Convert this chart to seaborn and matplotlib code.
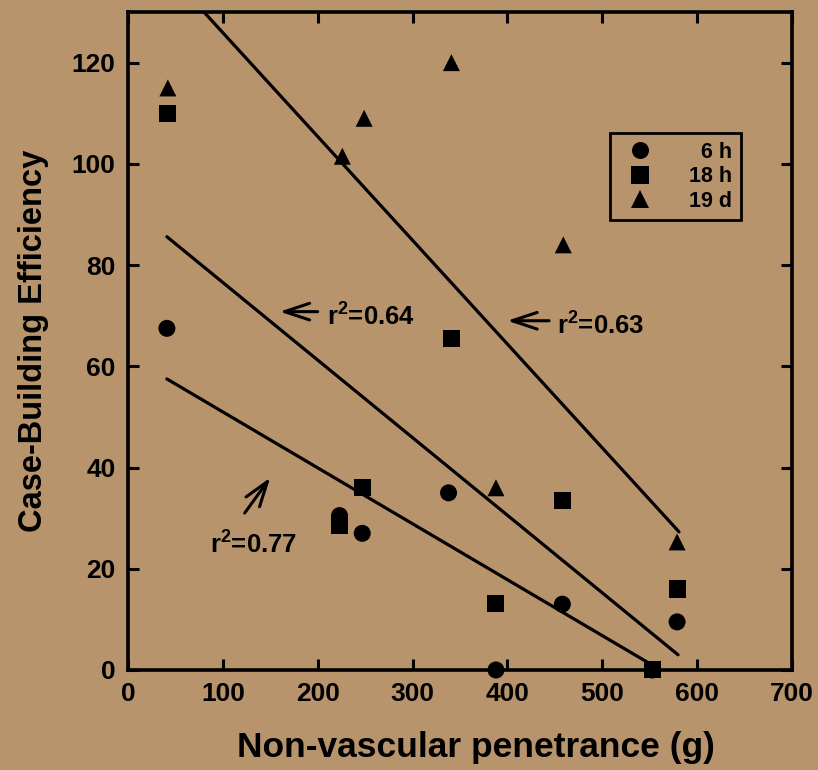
import pandas as pd
import matplotlib.pyplot as plt
import seaborn as sns

# valores
x_6h = [41, 223, 247, 338, 388, 458, 553, 579]
y_6h = [67.5, 30.5, 27, 35, 0, 13, 0, 9.5]
x_18h = [42, 223, 247, 341, 388, 458, 553, 579]
y_18h = [110, 28.5, 36, 65.5, 13.2, 33.5, 0, 16]
x_19d = [42, 226, 249, 341, 388, 459, 579]
y_19d = [115, 101.5, 109, 120, 36, 84, 25.3]

grupos = ['6 h', '18 h', '19 d']
legenda = ['  6 h', '18 h', '19 d']

# retas de regressão (extremos)
fit_x = {'6 h': [41, 548], '18 h': [41, 580], '19 d': [41, 581]}
fit_y = {'6 h': [57.5, 1.5], '18 h': [85.6, 3.0], '19 d': [138.0, 27.3]}
r2 = {'6 h': '0.77', '18 h': '0.64', '19 d': '0.63'}

df = pd.concat([
    pd.DataFrame({'x': x_6h, 'y': y_6h, 'grupo': '6 h'}),
    pd.DataFrame({'x': x_18h, 'y': y_18h, 'grupo': '18 h'}),
    pd.DataFrame({'x': x_19d, 'y': y_19d, 'grupo': '19 d'}),
])

fundo = '#b8946d'
sns.set_theme(style='ticks')
plt.rcParams['font.family'] = ['Liberation Sans', 'DejaVu Sans']
plt.rcParams['font.weight'] = 'bold'
plt.rcParams['text.color'] = 'black'
plt.rcParams['axes.labelcolor'] = 'black'
plt.rcParams['mathtext.fontset'] = 'custom'
plt.rcParams['mathtext.rm'] = 'Liberation Sans:bold'
plt.rcParams['mathtext.default'] = 'rm'

fig = plt.figure(figsize=(8.18, 7.70), dpi=100, facecolor=fundo)
ax = fig.add_axes([0.1565, 0.1299, 0.8115, 0.8545])
ax.set_facecolor(fundo)

sns.scatterplot(data=df, x='x', y='y', style='grupo', style_order=grupos,
                markers={'6 h': 'o', '18 h': 's', '19 d': '^'},
                color='black', s=150, edgecolor='black', linewidth=0,
                zorder=3, clip_on=False, ax=ax)

for g in grupos:
    ax.plot(fit_x[g], fit_y[g], color='black', lw=2.3, zorder=2, clip_on=True)

# anotações r^2
seta = dict(arrowstyle='->, head_length=0.9, head_width=0.3', lw=2.2,
            mutation_scale=20, color='black', shrinkA=0, shrinkB=0)
ax.annotate('', xy=(160, 70.8), xytext=(200, 70.8), arrowprops=seta)
ax.text(210, 68, r'r$^2$=' + r2['18 h'], fontsize=18.5, fontweight='bold')
ax.annotate('', xy=(400, 69), xytext=(444, 69), arrowprops=seta)
ax.text(452, 66.3, r'r$^2$=' + r2['19 d'], fontsize=18.5, fontweight='bold')
ax.annotate('', xy=(150, 38), xytext=(123, 31), arrowprops=seta)
ax.text(86, 23, r'r$^2$=' + r2['6 h'], fontsize=18.5, fontweight='bold')

ax.set_xlim(0, 700)
ax.set_ylim(0, 130)
ax.set_xticks(range(0, 701, 100))
ax.set_yticks(range(0, 121, 20))
ax.tick_params(direction='in', length=8, width=2.2, top=True, right=True,
               labelsize=19, pad=9, colors='black')
for s in ax.spines.values():
    s.set_linewidth(2.6)
    s.set_color('black')

ax.set_xlabel('Non-vascular penetrance (g)', fontsize=25.5, fontweight='bold')
ax.xaxis.set_label_coords(0.524, -0.093)
ax.set_ylabel('Case-Building Efficiency', fontsize=23.5, fontweight='bold', labelpad=16)

h, _ = ax.get_legend_handles_labels()
leg = ax.legend(h, legenda, loc='upper right', bbox_to_anchor=(0.94, 0.832),
                fontsize=15.5, frameon=True, fancybox=False, edgecolor='black',
                facecolor=fundo, framealpha=1, labelspacing=0.16,
                handletextpad=1.3, borderpad=0.4, markerscale=1.0)
leg.get_frame().set_linewidth(2)

plt.savefig('out.png', dpi=100, facecolor=fundo)
plt.close()
